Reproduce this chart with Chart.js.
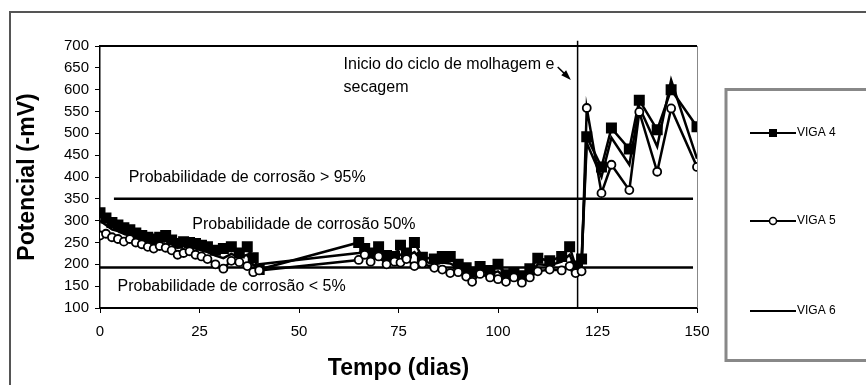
<!DOCTYPE html>
<html>
<head>
<meta charset="utf-8">
<script src="https://cdn.jsdelivr.net/npm/chart.js@4/dist/chart.umd.min.js"></script>
<style>
  html, body { margin: 0; padding: 0; background: #fff; }
</style>
</head>
<body>
<canvas id="potencialChart" width="866" height="385"></canvas>
<script>
// dias de ensaio (mesmos para as tres vigas)
const dias = [0, 1.5, 3, 4.5, 6, 7.5, 9, 10.5, 12, 13.5, 15, 16.5, 18, 19.5, 21, 22.5, 24, 25.5, 27, 29, 31, 33, 35, 37, 38.5, 40,
  65, 66.5, 68, 70, 72, 74, 75.5, 77, 79, 81, 84, 86, 88, 90, 92, 93.5, 95.5, 98, 100, 102, 104, 106, 108, 110, 113, 116, 118, 119.5,
  121, 122.3, 126, 128.5, 133, 135.5, 140, 143.5, 150]

// potencial (-mV)
const viga4 = [318, 306, 296, 290, 284, 279, 272, 266, 262, 258, 262, 266, 256, 248, 252, 250, 248, 244, 240, 232, 236, 240, 226, 240, 215, 188,
  250, 236, 226, 240, 220, 218, 244, 226, 250, 216, 212, 218, 218, 200, 192, 182, 195, 186, 200, 176, 180, 174, 190, 214, 208, 218, 240, 196,
  212, 492, 423, 512, 464, 576, 508, 600, 515]
const viga5 = [266, 270, 262, 258, 252, 258, 250, 246, 240, 236, 242, 238, 232, 222, 226, 230, 222, 218, 212, 200, 190, 208, 205, 196, 182, 186,
  210, 222, 206, 218, 200, 206, 204, 212, 196, 202, 192, 188, 180, 182, 172, 160, 178, 170, 166, 160, 170, 158, 170, 184, 188, 186, 196, 180,
  184, 558, 363, 428, 370, 549, 412, 557, 423]
const viga6 = [300, 290, 280, 276, 270, 266, 262, 256, 252, 248, 252, 254, 246, 238, 242, 240, 236, 232, 228, 220, 214, 224, 216, 222, 198, 200,
  226, 230, 214, 228, 212, 212, 222, 218, 228, 208, 200, 204, 202, 192, 184, 172, 188, 178, 184, 168, 174, 166, 180, 200, 198, 206, 222, 190,
  205, 478, 400, 490, 428, 560, 470, 622, 442]

const nomes = ['VIGA 4', 'VIGA 5', 'VIGA 6']

// limites de probabilidade de corrosao e inicio do ciclo
const limite95 = 350
const limite5 = 193
const inicioCiclo = 120

const textos = [
  { txt: 'Probabilidade de corrosão > 95%', x: 7.2, y: 398 },
  { txt: 'Probabilidade de corrosão 50%', x: 23.2, y: 292 },
  { txt: 'Probabilidade de corrosão < 5%', x: 4.4, y: 150 },
  { txt: 'Inicio do ciclo de molhagem e', x: 61.2, y: 657 },
  { txt: 'secagem', x: 61.2, y: 605 },
]

const pts = arr => dias.map((d, i) => ({ x: d, y: arr[i] }))

const fonte = 'Liberation Sans, Arial, sans-serif'

const moldura = {
  id: 'moldura',
  beforeDraw(chart) {
    const ctx = chart.ctx
    ctx.save()
    ctx.fillStyle = '#fff'
    ctx.fillRect(0, 0, chart.width, chart.height)
    ctx.restore()
  },
  afterDraw(chart) {
    const ctx = chart.ctx
    const { left, right, top, bottom } = chart.chartArea
    const sx = chart.scales.x, sy = chart.scales.y
    ctx.save()

    // borda externa
    ctx.strokeStyle = '#555'
    ctx.lineWidth = 2
    ctx.strokeRect(10, 12, 900, 420)

    // topo e lado direito da area do grafico
    ctx.strokeStyle = '#000'
    ctx.lineWidth = 2
    ctx.beginPath()
    ctx.moveTo(left, top)
    ctx.lineTo(right, top)
    ctx.stroke()
    ctx.strokeStyle = '#888'
    ctx.lineWidth = 1
    ctx.beginPath()
    ctx.moveTo(right + 0.5, top)
    ctx.lineTo(right + 0.5, bottom)
    ctx.stroke()

    // textos
    ctx.fillStyle = '#000'
    ctx.font = '16px ' + fonte
    ctx.textBaseline = 'middle'
    ctx.textAlign = 'left'
    textos.forEach(t => ctx.fillText(t.txt, sx.getPixelForValue(t.x), sy.getPixelForValue(t.y)))

    // seta
    const x0 = sx.getPixelForValue(115), y0 = sy.getPixelForValue(652)
    const x1 = sx.getPixelForValue(117.8), y1 = sy.getPixelForValue(627)
    ctx.strokeStyle = '#000'
    ctx.lineWidth = 1.5
    ctx.beginPath()
    ctx.moveTo(x0, y0)
    ctx.lineTo(x1, y1)
    ctx.stroke()
    const ang = Math.atan2(y1 - y0, x1 - x0)
    ctx.beginPath()
    ctx.moveTo(x1 + 2, y1 + 2)
    ctx.lineTo(x1 - 8 * Math.cos(ang - 0.45), y1 - 8 * Math.sin(ang - 0.45))
    ctx.lineTo(x1 - 8 * Math.cos(ang + 0.45), y1 - 8 * Math.sin(ang + 0.45))
    ctx.closePath()
    ctx.fill()

    // legenda
    ctx.strokeStyle = '#888'
    ctx.lineWidth = 3
    ctx.beginPath()
    ctx.moveTo(900, 89.5)
    ctx.lineTo(726, 89.5)
    ctx.lineTo(726, 360.5)
    ctx.lineTo(900, 360.5)
    ctx.stroke()
    const linhas = [133, 221, 311]
    ctx.font = '12px ' + fonte
    chart.data.datasets.slice(0, 3).forEach((ds, i) => {
      const y = linhas[i]
      ctx.strokeStyle = '#000'
      ctx.lineWidth = 2
      ctx.beginPath()
      ctx.moveTo(750, y)
      ctx.lineTo(796, y)
      ctx.stroke()
      if (ds.pointStyle === 'rect') {
        ctx.fillStyle = '#000'
        ctx.fillRect(769, y - 4, 8, 8)
      } else if (ds.pointRadius > 0) {
        ctx.fillStyle = '#fff'
        ctx.lineWidth = 1.5
        ctx.beginPath()
        ctx.arc(773, y, 3.5, 0, Math.PI * 2)
        ctx.fill()
        ctx.stroke()
      }
      ctx.fillStyle = '#000'
      ctx.fillText(ds.label, 797, y)
    })
    ctx.restore()
  }
}

new Chart(
  document.getElementById('potencialChart'),
  {
    type: 'line',
    plugins: [moldura],
    data: {
      datasets: [
        {
          label: nomes[0],
          data: pts(viga4),
          borderColor: '#000',
          borderWidth: 2.5,
          pointStyle: 'rect',
          pointRadius: 6,
          pointBackgroundColor: '#000',
          pointBorderColor: '#000',
          order: 2,
        },
        {
          label: nomes[1],
          data: pts(viga5),
          borderColor: '#000',
          borderWidth: 2.5,
          pointStyle: 'circle',
          pointRadius: 4,
          pointBackgroundColor: '#fff',
          pointBorderColor: '#000',
          pointBorderWidth: 1.8,
          order: 1,
        },
        {
          label: nomes[2],
          data: pts(viga6),
          borderColor: '#000',
          borderWidth: 2.5,
          pointRadius: 0,
          order: 3,
        },
        {
          label: 'p95',
          data: [{ x: 3.5, y: limite95 }, { x: 149, y: limite95 }],
          borderColor: '#000',
          borderWidth: 2.5,
          pointRadius: 0,
          order: 4,
        },
        {
          label: 'p5',
          data: [{ x: 0, y: limite5 }, { x: 149, y: limite5 }],
          borderColor: '#000',
          borderWidth: 2.5,
          pointRadius: 0,
          order: 4,
        },
        {
          label: 'ciclo',
          data: [{ x: inicioCiclo, y: 100 }, { x: inicioCiclo, y: 712 }],
          borderColor: '#000',
          borderWidth: 1.5,
          pointRadius: 0,
          clip: false,
          order: 4,
        },
      ]
    },
    options: {
      responsive: false,
      animation: false,
      layout: { padding: { top: 46, right: 169, left: 0, bottom: 0 } },
      plugins: {
        legend: { display: false },
        tooltip: { enabled: false }
      },
      scales: {
        x: {
          type: 'linear',
          min: 0,
          max: 150,
          afterFit: s => { s.height = 77 },
          ticks: { stepSize: 25, color: '#000', padding: 10, font: { family: fonte, size: 15 } },
          grid: { drawOnChartArea: false, tickLength: 5, color: '#000' },
          border: { color: '#000', width: 2 },
          title: { display: true, text: 'Tempo (dias)', color: '#000', padding: { top: 0, bottom: 3 }, font: { family: fonte, size: 23, weight: 'bold', lineHeight: 1.2 } }
        },
        y: {
          min: 100,
          max: 700,
          afterFit: s => { s.width = 100 },
          ticks: { stepSize: 50, color: '#000', padding: 6, font: { family: fonte, size: 15 } },
          grid: { drawOnChartArea: false, tickLength: 5, color: '#000' },
          border: { color: '#000', width: 1.5 },
          title: { display: true, text: 'Potencial (-mV)', color: '#000', padding: { top: 14, bottom: 0 }, font: { family: fonte, size: 23, weight: 'bold', lineHeight: 1.2 } }
        }
      }
    }
  }
)
</script>
</body>
</html>
